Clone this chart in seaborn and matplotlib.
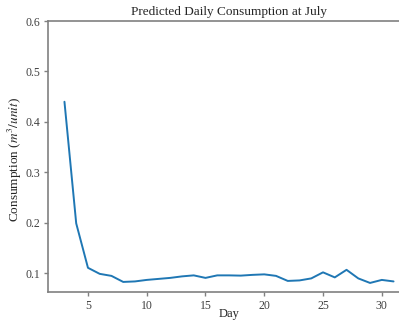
import pandas as pd
import seaborn as sns
import matplotlib
matplotlib.use('Agg')
import matplotlib.pyplot as plt

# predicted consumption per day in July
days = list(range(3, 32))
consumption = [0.44, 0.199, 0.111, 0.099, 0.095, 0.083, 0.084, 0.087, 0.089, 0.091,
               0.094, 0.096, 0.091, 0.096, 0.096, 0.0955, 0.097, 0.098, 0.095, 0.085,
               0.086, 0.090, 0.102, 0.092, 0.107, 0.090, 0.081, 0.087, 0.084]

df = pd.DataFrame({'Day': days, 'Consumption': consumption})

sns.set_style('ticks')
plt.rcParams['font.family'] = ['Liberation Serif', 'DejaVu Serif']
plt.rcParams['mathtext.fontset'] = 'stix'

fig = plt.figure(figsize=(3.99, 3.23), dpi=100)
# right part of the axes box runs past the picture edge, like the reference crop
ax = fig.add_axes([48 / 399, 31 / 323, 362 / 399, 271 / 323])

sns.lineplot(data=df, x='Day', y='Consumption', ax=ax, color='#1f77b4', linewidth=1.4)

ax.set_ylim(top=0.6)
ax.set_xticks([5, 10, 15, 20, 25, 30])
ax.set_yticks([0.1, 0.2, 0.3, 0.4, 0.5, 0.6])
ax.set_title('Predicted Daily Consumption at July', fontsize=9.5, pad=4)
ax.set_xlabel('Day', fontsize=9)
ax.xaxis.set_label_coords(0.5, -0.058)
ax.set_ylabel('Consumption ($m^3/unit$)', fontsize=9.5)
ax.yaxis.set_label_coords(-0.066, 0.49)

for s in ax.spines.values():
    s.set_color('#808080')
    s.set_linewidth(1.2)
ax.tick_params(colors='#404040', labelsize=8.5, length=3, width=1, direction='out', pad=2.5)
ax.tick_params(axis='both', color='#808080')

fig.savefig('out.png', dpi=100)
